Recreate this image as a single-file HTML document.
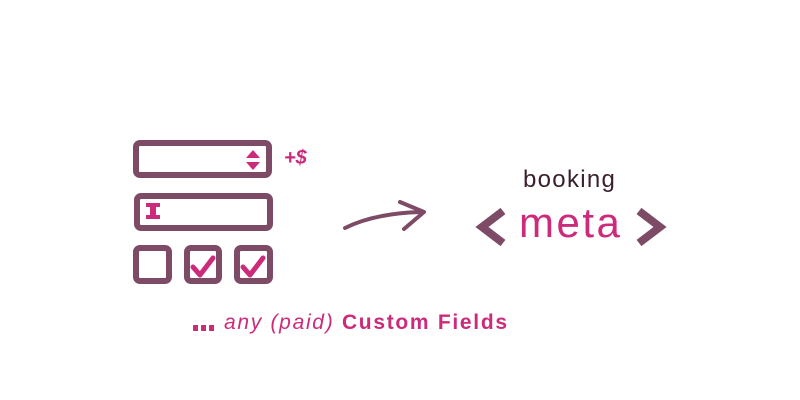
<!DOCTYPE html>
<html><head><style>
body{margin:0;width:800px;height:400px;background:#fff;overflow:hidden;position:relative;font-family:"Liberation Sans",sans-serif}
.t{position:absolute;white-space:nowrap}
</style></head><body>
<svg width="800" height="400" style="position:absolute;left:0;top:0">
<g fill="none" stroke="#7d4b66" stroke-width="6">
<rect x="136" y="143" width="133" height="32" rx="4"/>
<rect x="137" y="196" width="133" height="32" rx="4"/>
<rect x="136" y="248" width="33" height="33" rx="4"/>
<rect x="187" y="248" width="32" height="33" rx="4"/>
<rect x="237" y="248" width="33" height="33" rx="4"/>
</g>
<g fill="#cc2a7a">
<polygon points="246,158 260,158 253,150"/>
<polygon points="246,162 260,162 253,170"/>
<rect x="146" y="203" width="14" height="4"/><rect x="150" y="203" width="6" height="16"/><rect x="146" y="215" width="14" height="4"/>
</g>
<g fill="none" stroke="#cc2a7a" stroke-width="5" stroke-linecap="round" stroke-linejoin="round">
<polyline points="193,267 200,275 213,258"/>
<polyline points="243,267 250,275 263,258"/>
</g>
<path d="M345,228 C365,218 390,213 420,212" fill="none" stroke="#7d4b66" stroke-width="4" stroke-linecap="round"/>
<path d="M400,202 L424,212 L404,229" fill="none" stroke="#7d4b66" stroke-width="4" stroke-linecap="round" stroke-linejoin="round"/>
<g fill="none" stroke="#7d4b66" stroke-width="8" stroke-linejoin="miter">
<polyline points="503,211 482,227 503,243"/>
<polyline points="639,211 660,227 639,243"/>
</g>
<g fill="#cc2a7a"><rect x="193" y="325" width="5" height="6"/><rect x="201" y="325" width="5" height="6"/><rect x="209" y="325" width="5" height="6"/></g>
</svg>
<div class="t" style="left:284px;top:147px;font-size:20px;font-weight:bold;color:#cc2a7a;font-style:italic">+$</div>
<div class="t" style="left:523px;top:166px;font-size:24px;color:#3a1f2e;letter-spacing:1.3px">booking</div>
<div class="t" style="left:519px;top:199px;font-size:42px;color:#cc2a7a;letter-spacing:2.5px">meta</div>
<div class="t" style="left:224px;top:311px;font-size:21px;color:#cc2a7a;letter-spacing:1.7px"><i>any (paid)</i> <b>Custom Fields</b></div>
</body></html>
